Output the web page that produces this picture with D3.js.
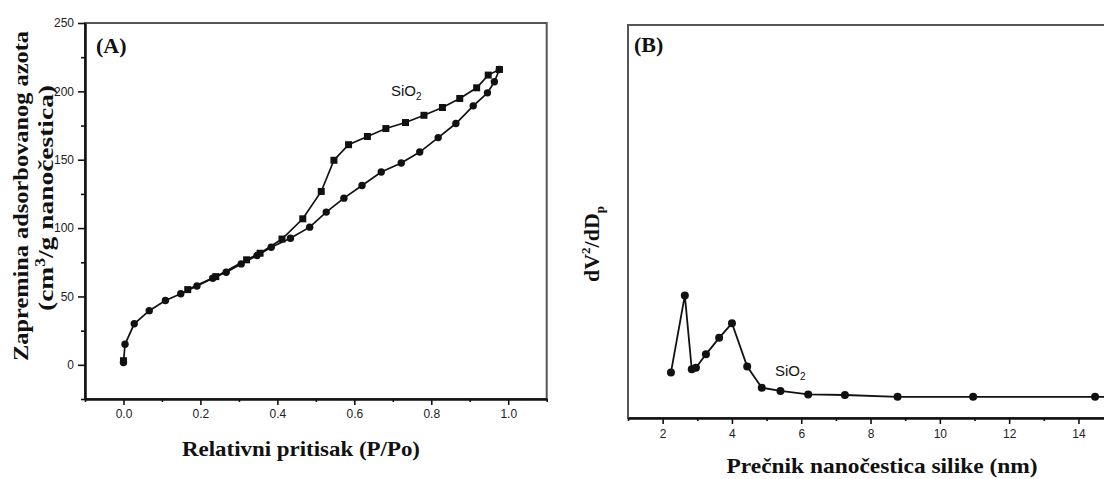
<!DOCTYPE html>
<html><head><meta charset="utf-8">
<script src="https://cdn.jsdelivr.net/npm/d3@7/dist/d3.min.js"></script>
<style>
body{margin:0;background:#fff}
.tick text{font-family:"Liberation Sans",Arial,sans-serif;font-size:12px;fill:#222}
.ttl{font-family:"Liberation Serif","Times New Roman",serif;font-weight:bold;fill:#111}
.lbl{font-family:"Liberation Sans",Arial,sans-serif;font-size:15px;fill:#111}
</style>
</head><body>
<svg id="c" width="1104" height="479"></svg>
<script>
// Panel A: nitrogen adsorption/desorption isotherm
const adsP = [0.0, 0.004, 0.028, 0.067, 0.109, 0.149, 0.191, 0.232, 0.267, 0.306, 0.347, 0.384, 0.434, 0.484, 0.527, 0.573, 0.62, 0.67, 0.722, 0.77, 0.818, 0.864, 0.909, 0.946, 0.964, 0.977];
const adsV = [1.7, 15, 30, 39.6, 47, 52, 57.7, 63.3, 67.7, 73.8, 79.9, 86, 92.6, 100.7, 111.7, 121.9, 131.2, 141, 147.6, 155.6, 166.2, 176.5, 189.4, 198.9, 207, 216];
const desP = [0.977, 0.948, 0.918, 0.874, 0.829, 0.781, 0.733, 0.682, 0.634, 0.585, 0.547, 0.514, 0.466, 0.412, 0.355, 0.32, 0.24, 0.167];
const desV = [216, 211.9, 202.6, 194.8, 188.2, 182.5, 177.2, 172.8, 167, 161, 149.6, 126.8, 106.8, 92, 81.6, 76.8, 64.5, 55];
const startP = [0.0];
const startV = [3];
const xTicksA = [0.0, 0.2, 0.4, 0.6, 0.8, 1.0];
const xMinorA = [-0.1, 0.1, 0.3, 0.5, 0.7, 0.9, 1.1];
const yTicksA = [0, 50, 100, 150, 200, 250];
const yMinorA = [-25, 25, 75, 125, 175, 225];
// Panel B: pore size distribution (arbitrary units)
const psdD = [2.24, 2.64, 2.84, 2.96, 3.25, 3.63, 4.0, 4.44, 4.86, 5.40, 6.20, 7.26, 8.78, 10.96, 14.48, 16.5];
const psdV = [11.6, 31.2, 12.4, 12.8, 16.2, 20.4, 24.1, 13.1, 7.7, 6.9, 6.0, 5.85, 5.4, 5.4, 5.4, 5.35];
const xTicksB = [2, 4, 6, 8, 10, 12, 14];
const xMinorB = [1, 3, 5, 7, 9, 11, 13];

const svg = d3.select("#c");
const ink = "#111", frame = "#555";

// ---------- Panel A ----------
const xA = d3.scaleLinear([-0.1, 1.1], [85, 546.7]);
const yA = d3.scaleLinear([-25, 250], [399, 23]);
const gA = svg.append("g");

gA.append("rect").attr("x", xA(-0.1)).attr("y", yA(250))
  .attr("width", xA(1.1) - xA(-0.1)).attr("height", yA(-25) - yA(250))
  .attr("fill", "none").attr("stroke", frame).attr("stroke-width", 2);

function styleAxis(g){ g.select(".domain").attr("stroke", ink).attr("stroke-width", 2); g.selectAll(".tick line").attr("stroke", ink).attr("stroke-width", 1.6); }

gA.append("g").attr("transform", `translate(0,${yA(-25)})`)
  .call(d3.axisBottom(xA).tickValues(xTicksA).tickFormat(d3.format(".1f")).tickSize(6).tickSizeOuter(0).tickPadding(4))
  .call(styleAxis);
gA.append("g").attr("transform", `translate(0,${yA(-25)})`)
  .call(d3.axisBottom(xA).tickValues(xMinorA).tickFormat("").tickSize(3).tickSizeOuter(0))
  .call(styleAxis);
gA.append("g").attr("transform", `translate(${xA(-0.1)},0)`)
  .call(d3.axisLeft(yA).tickValues(yTicksA).tickSize(7).tickSizeOuter(0).tickPadding(4))
  .call(styleAxis);
gA.append("g").attr("transform", `translate(${xA(-0.1)},0)`)
  .call(d3.axisLeft(yA).tickValues(yMinorA).tickFormat("").tickSize(4).tickSizeOuter(0))
  .call(styleAxis);

const lineA = d3.line().x(d => xA(d[0])).y(d => yA(d[1]));
const ads = adsP.map((p, i) => [p, adsV[i]]);
const des = desP.map((p, i) => [p, desV[i]]);
const st = startP.map((p, i) => [p, startV[i]]);
gA.append("path").attr("d", lineA(ads)).attr("fill", "none").attr("stroke", ink).attr("stroke-width", 1.7);
gA.append("path").attr("d", lineA(des)).attr("fill", "none").attr("stroke", ink).attr("stroke-width", 1.7);
gA.selectAll("circle.a").data(ads).join("circle").attr("class", "a")
  .attr("cx", d => xA(d[0])).attr("cy", d => yA(d[1])).attr("r", 3.7).attr("fill", ink);
gA.selectAll("rect.d").data(des.concat(st)).join("rect").attr("class", "d")
  .attr("x", d => xA(d[0]) - 3.5).attr("y", d => yA(d[1]) - 3.5).attr("width", 7).attr("height", 7).attr("fill", ink);

gA.append("text").attr("class", "ttl").attr("x", 96).attr("y", 53).attr("font-size", 22).text("(A)");
const sA = gA.append("text").attr("class", "lbl").attr("x", 391).attr("y", 96);
sA.append("tspan").text("SiO");
sA.append("tspan").attr("font-size", 10).attr("dy", 4).text("2");

gA.append("text").attr("class", "ttl").attr("x", 301).attr("y", 456).attr("text-anchor", "middle")
  .attr("font-size", 22).attr("textLength", 238).attr("lengthAdjust", "spacingAndGlyphs")
  .text("Relativni pritisak (P/Po)");
gA.append("text").attr("class", "ttl").attr("transform", "translate(28,196) rotate(-90)")
  .attr("text-anchor", "middle").attr("font-size", 22).attr("textLength", 330).attr("lengthAdjust", "spacingAndGlyphs")
  .text("Zapremina adsorbovanog azota");
const yt2 = gA.append("text").attr("class", "ttl").attr("transform", "translate(53,198) rotate(-90)")
  .attr("text-anchor", "middle").attr("font-size", 22).attr("textLength", 226).attr("lengthAdjust", "spacingAndGlyphs");
yt2.append("tspan").text("(cm");
yt2.append("tspan").attr("font-size", 14).attr("dy", -8).text("3");
yt2.append("tspan").attr("dy", 8).text("/g nanočestica)");

// ---------- Panel B ----------
const xB = d3.scaleLinear([1, 16], [628, 628 + 15 * 34.65]);
const yB = d3.scaleLinear([0, 100], [418, 25]);
const gB = svg.append("g");

gB.append("rect").attr("x", xB(1)).attr("y", yB(100))
  .attr("width", xB(16) - xB(1) + 20).attr("height", yB(0) - yB(100))
  .attr("fill", "none").attr("stroke", frame).attr("stroke-width", 2);
gB.append("g").attr("transform", `translate(0,${yB(0)})`)
  .call(d3.axisBottom(xB).tickValues(xTicksB).tickSize(6).tickSizeOuter(0).tickPadding(5))
  .call(styleAxis);
gB.append("g").attr("transform", `translate(0,${yB(0)})`)
  .call(d3.axisBottom(xB).tickValues(xMinorB).tickFormat("").tickSize(3).tickSizeOuter(0))
  .call(styleAxis);
gB.append("line").attr("x1", xB(1)).attr("x2", xB(1)).attr("y1", yB(100)).attr("y2", yB(0))
  .attr("stroke", frame).attr("stroke-width", 2);

const psd = psdD.map((d, i) => [d, psdV[i]]);
gB.append("path").attr("d", d3.line().x(d => xB(d[0])).y(d => yB(d[1]))(psd))
  .attr("fill", "none").attr("stroke", ink).attr("stroke-width", 1.8);
gB.selectAll("circle").data(psd).join("circle")
  .attr("cx", d => xB(d[0])).attr("cy", d => yB(d[1])).attr("r", 4).attr("fill", ink);

gB.append("text").attr("class", "ttl").attr("x", 634).attr("y", 52).attr("font-size", 22).text("(B)");
const sB = gB.append("text").attr("class", "lbl").attr("x", 775).attr("y", 376);
sB.append("tspan").text("SiO");
sB.append("tspan").attr("font-size", 10).attr("dy", 4).text("2");

gB.append("text").attr("class", "ttl").attr("x", 882).attr("y", 473).attr("text-anchor", "middle")
  .attr("font-size", 22).attr("textLength", 311).attr("lengthAdjust", "spacingAndGlyphs")
  .text("Prečnik nanočestica silike (nm)");
const yb = gB.append("text").attr("class", "ttl").attr("transform", "translate(599,244) rotate(-90)")
  .attr("text-anchor", "middle").attr("font-size", 22);
yb.append("tspan").text("dV");
yb.append("tspan").attr("font-size", 13).attr("dy", -9).text("2");
yb.append("tspan").attr("dy", 9).text("/dD");
yb.append("tspan").attr("font-size", 13).attr("dy", 5).text("p");
</script>
</body></html>
